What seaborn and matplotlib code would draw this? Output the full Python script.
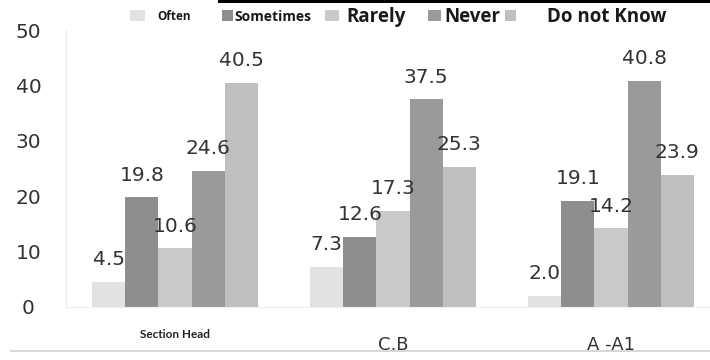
import matplotlib
matplotlib.use("Agg")
import matplotlib.pyplot as plt
from matplotlib.patches import Rectangle
import seaborn as sns
import pandas as pd

# Survey responses (%) per staff grade
groups = ["Section Head", "C,B", "A -A1"]
responses = ["Often", "Sometimes", "Rarely", "Never", "Do not Know"]
often = [4.5, 7.3, 2.0]
sometimes = [19.8, 12.6, 19.1]
rarely = [10.6, 17.3, 14.2]
never = [24.6, 37.5, 40.8]
do_not_know = [40.5, 25.3, 23.9]
y_ticks = [0, 10, 20, 30, 40, 50]

colors = ["#e2e2e2", "#8e8e8e", "#c9c9c9", "#9a9a9a", "#bfbfbf"]

series = [often, sometimes, rarely, never, do_not_know]
rows = []
for resp, vals in zip(responses, series):
    for g, v in zip(groups, vals):
        rows.append({"group": g, "response": resp, "value": v})
df = pd.DataFrame(rows)

sns.set_style("white")
fig = plt.figure(figsize=(7.1, 3.6), dpi=100)
W, H = 710, 360
ax = fig.add_axes([66 / W, (H - 307) / H, (710 - 66) / W, 277 / H])

sns.barplot(data=df, x="group", y="value", hue="response", order=groups,
            hue_order=responses, palette=colors, saturation=1, width=0.76,
            linewidth=0, legend=False, ax=ax)

ax.set_xlim(-0.5, 2.454)
ax.set_ylim(0, 50)
ax.set_xlabel("")
ax.set_ylabel("")

# value labels above each bar
for cont, vals in zip(ax.containers, series):
    for bar, v in zip(cont.patches, vals):
        ax.annotate(f"{v:.1f}", (bar.get_x() + bar.get_width() / 2, v),
                    xytext=(0, 16), textcoords="offset points",
                    ha="center", va="center", fontsize=14.5,
                    color="#333333", fontfamily="DejaVu Sans", zorder=5)

# y axis
ax.set_yticks(y_ticks)
ax.set_yticklabels([str(t) for t in y_ticks], fontsize=14.5, color="#333333",
                   ha="center", fontfamily="DejaVu Sans")
ax.tick_params(axis="y", length=0, pad=27)
ax.tick_params(axis="x", length=0)
ax.set_xticks(range(len(groups)))
ax.set_xticklabels([])

for side in ["top", "right"]:
    ax.spines[side].set_visible(False)
ax.spines["left"].set_color("#ececec")
ax.spines["bottom"].set_color("#f0f0f0")

# category labels
xt = ax.get_xaxis_transform()
ax.text(0, -0.1, groups[0], transform=xt, ha="center", va="center",
        fontsize=8.5, fontweight="bold", color="#222222", fontfamily="Lato")
ax.text(1, -0.137, groups[1], transform=xt, ha="center", va="center",
        fontsize=13, color="#333333", fontfamily="DejaVu Sans")
ax.text(2, -0.137, groups[2], transform=xt, ha="center", va="center",
        fontsize=13, color="#333333", fontfamily="DejaVu Sans")

# legend row along the top
legend_items = [
    (130, 145, 157, 8.5),
    (222, 233, 234, 10),
    (325, 339, 346, 13.5),
    (428, 441, 444, 13.5),
    (505, 516, 547, 13.5),
]
for (x0, x1, tx, fs), resp, c in zip(legend_items, responses, colors):
    fig.patches.append(Rectangle((x0 / W, 1 - 21 / H), (x1 - x0) / W, 11 / H,
                                 transform=fig.transFigure, color=c, lw=0))
    fig.text(tx / W, 1 - 17 / H, resp, ha="left", va="center", fontsize=fs,
             fontweight="bold", color="#1a1a1a", fontfamily="Open Sans")

# dark rule at the very top and light rule at the bottom
fig.patches.append(Rectangle((218 / W, 1 - 3 / H), (W - 218) / W, 3 / H,
                             transform=fig.transFigure, color="black", lw=0))
fig.patches.append(Rectangle((10 / W, 1 - 352 / H), (W - 10) / W, 2 / H,
                             transform=fig.transFigure, color="#d8d8d8", lw=0))

fig.savefig("out.png", dpi=100)
